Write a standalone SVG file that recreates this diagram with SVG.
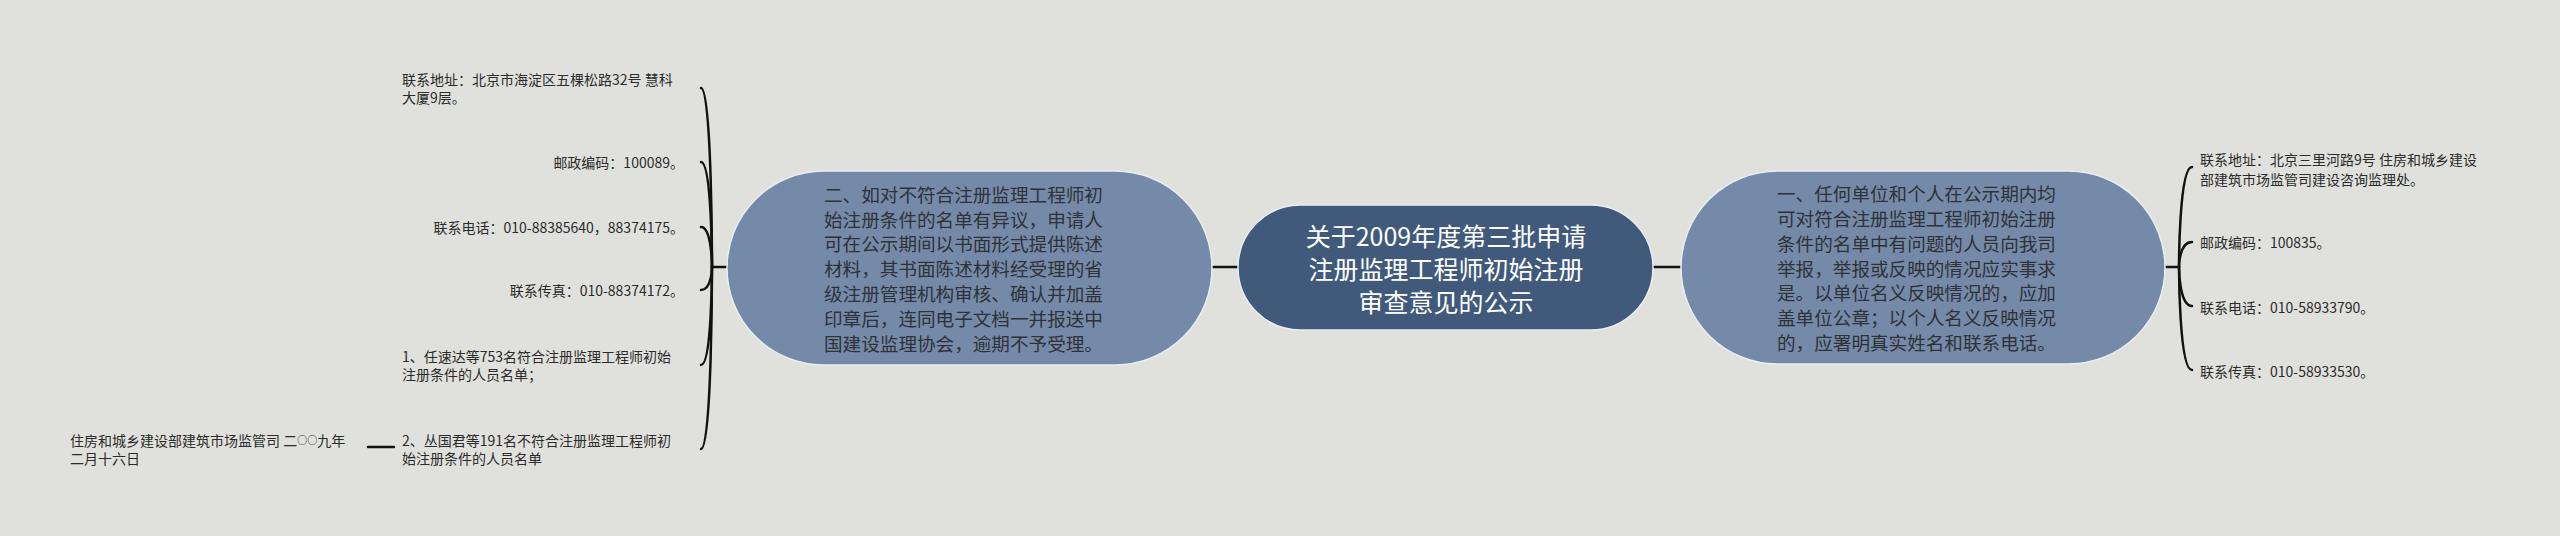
<svg xmlns="http://www.w3.org/2000/svg" width="2560" height="536" viewBox="0 0 2560 536">
<style>
.bg{fill:#e0e1dc}
.root{fill:#415a7b;stroke:#e9eef4;stroke-width:1.5}
.main{fill:#7589a8;stroke:#e9eef4;stroke-width:1.5}
.t{font-family:"Noto Sans CJK SC","Liberation Sans",sans-serif}
.rt{font-size:25px;fill:#ffffff;text-anchor:middle}
.mt{font-size:18.6px;fill:#2e3238}
.lt{font-size:14px;fill:#2b2b2b}
.sm{font-size:10px}
.c{fill:none;stroke:#111;stroke-width:2.5;stroke-linecap:round}
</style>
<rect class="bg" x="0" y="0" width="2560" height="536"/>
<g id="connectors">
<path class="c" d="M1212 267 L1238 267"/>
<path class="c" d="M1653 267 L1681 267"/>
<path class="c" d="M727 267 L712 267"/>
<path class="c" d="M712 267 C712 267 712 88 701 88"/>
<path class="c" d="M712 267 C712 267 712 162 701 162"/>
<path class="c" d="M712 267 C712 267 712 227 701 227"/>
<path class="c" d="M712 267 C712 267 712 290 701 290"/>
<path class="c" d="M712 267 C712 267 712 365 701 365"/>
<path class="c" d="M712 267 C712 267 712 449 701 449"/>
<path class="c" d="M368 447 L394 447"/>
<path class="c" d="M2165 267 L2179 267"/>
<path class="c" d="M2179 267 C2179 267 2179 167 2192 167"/>
<path class="c" d="M2179 267 C2179 267 2179 242 2192 242"/>
<path class="c" d="M2179 267 C2179 267 2179 306 2192 306"/>
<path class="c" d="M2179 267 C2179 267 2179 370 2192 370"/>
</g>
<g id="root">
<rect class="root" x="1238" y="205" width="415" height="125" rx="62.5"/>
<text class="t rt" x="1446" y="246">关于2009年度第三批申请</text>
<text class="t rt" x="1446" y="279">注册监理工程师初始注册</text>
<text class="t rt" x="1446" y="312">审查意见的公示</text>
</g>
<g id="node-left">
<rect class="main" x="727" y="171" width="485" height="194" rx="97"/>
<text class="t mt" x="824" y="202">二、如对不符合注册监理工程师初</text>
<text class="t mt" x="824" y="227">始注册条件的名单有异议，申请人</text>
<text class="t mt" x="824" y="251">可在公示期间以书面形式提供陈述</text>
<text class="t mt" x="824" y="276">材料，其书面陈述材料经受理的省</text>
<text class="t mt" x="824" y="301">级注册管理机构审核、确认并加盖</text>
<text class="t mt" x="824" y="326">印章后，连同电子文档一并报送中</text>
<text class="t mt" x="824" y="351">国建设监理协会，逾期不予受理。</text>
</g>
<g id="node-right">
<rect class="main" x="1681" y="171" width="484" height="193" rx="96.5"/>
<text class="t mt" x="1777" y="201">一、任何单位和个人在公示期内均</text>
<text class="t mt" x="1777" y="226">可对符合注册监理工程师初始注册</text>
<text class="t mt" x="1777" y="251">条件的名单中有问题的人员向我司</text>
<text class="t mt" x="1777" y="276">举报，举报或反映的情况应实事求</text>
<text class="t mt" x="1777" y="300">是。以单位名义反映情况的，应加</text>
<text class="t mt" x="1777" y="325">盖单位公章；以个人名义反映情况</text>
<text class="t mt" x="1777" y="350">的，应署明真实姓名和联系电话。</text>
</g>
<g id="left-address">
<text class="t lt" x="402" y="85">联系地址：北京市海淀区五棵松路32号 慧科</text>
<text class="t lt" x="402" y="103">大厦9层。</text>
</g>
<g id="left-postcode"><text class="t lt" x="684" y="168" text-anchor="end">邮政编码：100089。</text></g>
<g id="left-phone"><text class="t lt" x="684" y="233" text-anchor="end">联系电话：010-88385640，88374175。</text></g>
<g id="left-fax"><text class="t lt" x="684" y="296" text-anchor="end">联系传真：010-88374172。</text></g>
<g id="left-list1">
<text class="t lt" x="402" y="362">1、任速达等753名符合注册监理工程师初始</text>
<text class="t lt" x="402" y="380">注册条件的人员名单；</text>
</g>
<g id="left-list2">
<text class="t lt" x="402" y="446">2、丛国君等191名不符合注册监理工程师初</text>
<text class="t lt" x="402" y="464">始注册条件的人员名单</text>
</g>
<g id="left-signature">
<text class="t lt" x="70" y="446">住房和城乡建设部建筑市场监管司 二<tspan class="sm" dy="-2">○○</tspan><tspan dy="2">九年</tspan></text>
<text class="t lt" x="70" y="464">二月十六日</text>
</g>
<g id="right-address">
<text class="t lt" x="2200" y="165">联系地址：北京三里河路9号 住房和城乡建设</text>
<text class="t lt" x="2200" y="185">部建筑市场监管司建设咨询监理处。</text>
</g>
<g id="right-postcode"><text class="t lt" x="2200" y="248">邮政编码：100835。</text></g>
<g id="right-phone"><text class="t lt" x="2200" y="313">联系电话：010-58933790。</text></g>
<g id="right-fax"><text class="t lt" x="2200" y="377">联系传真：010-58933530。</text></g>
</svg>
